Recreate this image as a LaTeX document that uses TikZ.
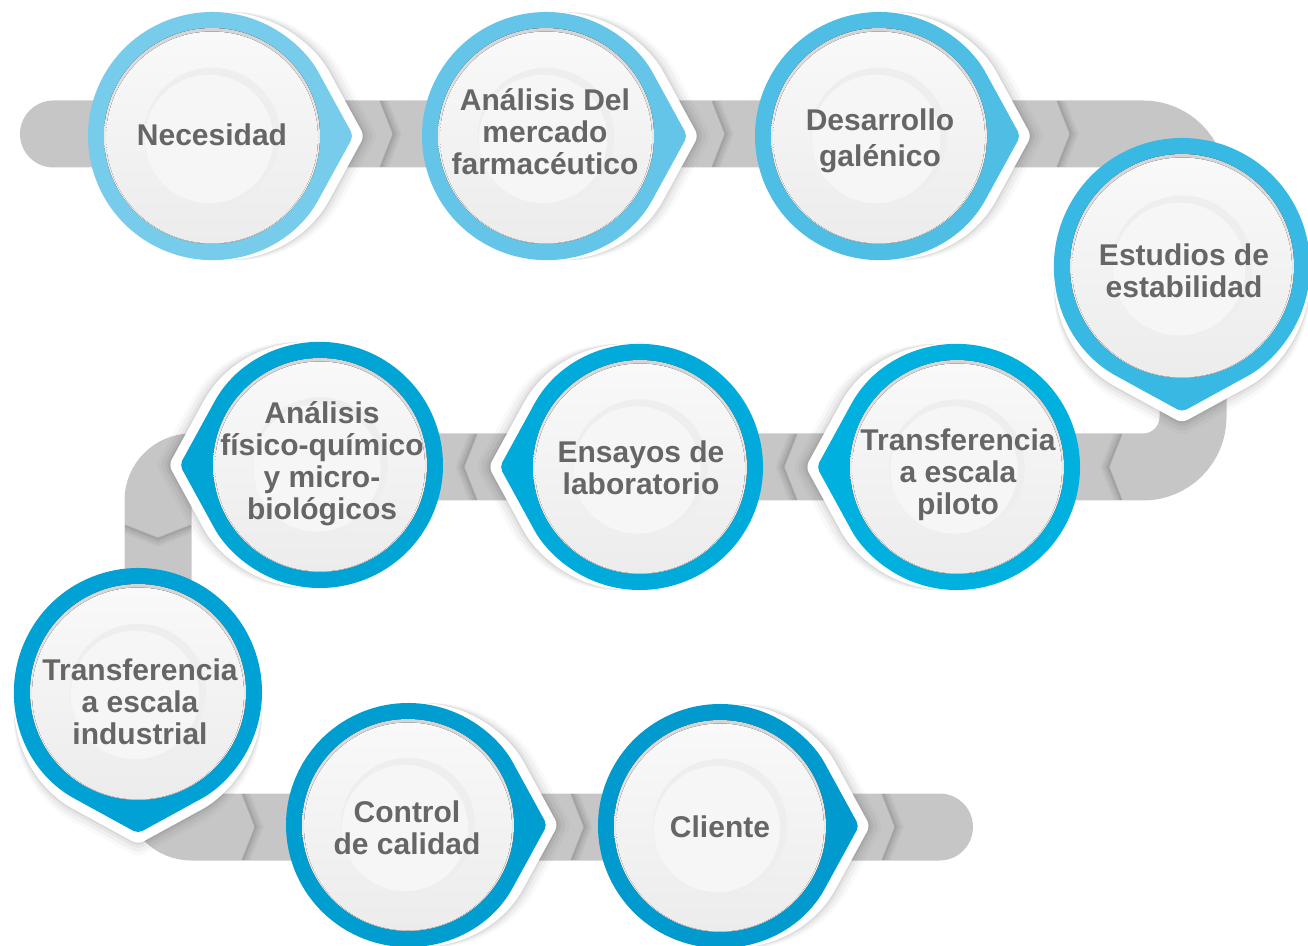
\documentclass[tikz,border=0pt]{standalone}
\usepackage{fontspec}
\setmainfont{Liberation Sans}
\definecolor{bandc}{HTML}{C6C6C6}
\definecolor{txtc}{HTML}{666666}
\definecolor{rimtop}{HTML}{D4D4D4}
\definecolor{discA}{HTML}{F9F9F9}
\definecolor{discB}{HTML}{ECECEC}
\definecolor{inA}{HTML}{EEEEEE}
\definecolor{inB}{HTML}{F6F6F6}
\definecolor{ringA}{HTML}{78CCEB}
\definecolor{ringB}{HTML}{64C5E8}
\definecolor{ringC}{HTML}{4FBEE5}
\definecolor{ringD}{HTML}{38B9E3}
\definecolor{ringE}{HTML}{00B0DF}
\definecolor{ringF}{HTML}{00AADA}
\definecolor{ringG}{HTML}{00A5D6}
\definecolor{ringH}{HTML}{00A1D4}
\definecolor{ringI}{HTML}{009DD1}
\definecolor{ringJ}{HTML}{009ACE}
\def\tipshape#1{(28.7:#1) arc[start angle=28.7, end angle=331.3, radius=#1] -- ({1.14*#1},0) -- cycle}
\newcommand\chev[3]{%
  \begin{scope}[shift={(#1,#2)},rotate=#3]
    \foreach \i/\o in {0/0.15,1.5/0.11,3/0.08,4.5/0.06,6/0.04,7.5/0.02}{
      \draw[black,opacity=\o,line width=0.9pt,line join=round] (-6.5+\i,-33) -- (6.5+\i,0) -- (-6.5+\i,33);
    }
  \end{scope}}
\newcommand\bubble[5]{%
  \begin{scope}[shift={(#1,#2)},rotate=#4]
    \foreach \s/\o in {24/0.025,20/0.035,16/0.045,13/0.06}{
      \fill[black,opacity=\o,shift={(\s,0)},rounded corners=3pt] \tipshape{#3};
    }
    \fill[white,shift={(11,0)},rounded corners=3pt] \tipshape{#3};
    \fill[#5,rounded corners=2.5pt] \tipshape{#3};
  \end{scope}
  \pgfmathsetmacro\rA{#3-16}
  \pgfmathsetmacro\rB{#3-18}
  \pgfmathsetmacro\rC{0.55*#3}
  \pgfmathsetmacro\rD{0.55*#3-4}
  \fill[top color=rimtop,bottom color=white] (#1,#2) circle[radius=\rA];
  \fill[top color=discA,bottom color=discB] (#1,#2+1.5) circle[radius=\rB];
  \fill[inA] (#1,#2) circle[radius=\rC];
  \fill[inB] (#1-3,#2+3) circle[radius=\rD];
}
\tikzset{
  lbl/.style={font=\bfseries\fontsize{15}{16}\selectfont, text=txtc, align=center, inner sep=0pt, anchor=north},
  bandline/.style={draw=bandc, line width=33.5pt, line cap=round}
}
\newcommand\st{\rule{0pt}{15pt}}
\begin{document}
\begin{tikzpicture}[x=0.5pt,y=-0.5pt]
\useasboundingbox (0,0) rectangle (1308,946);
% band
\coordinate (b0) at (53.5,134);
\coordinate (b1) at (1193,134);
\coordinate (b2) at (1193,467);
\coordinate (b3) at (600,467);
\coordinate (b4) at (158,467);
\coordinate (b5) at (158,827);
\coordinate (b6) at (939.5,827);
\draw[bandline, rounded corners=25pt] (b0) -- (b1) -- (b2) -- (b3);
\draw[bandline, rounded corners=16.75pt] (b3) -- (b4) -- (b5) -- (b6);
% chevrons
\chev{387}{134}{0}
\chev{719}{134}{0}
\chev{1064}{134}{0}
\chev{1115}{467}{180}
\chev{790}{467}{180}
\chev{470}{467}{180}
\chev{158}{532}{-90}
\chev{249}{827}{0}
\chev{578}{827}{0}
\chev{889}{827}{0}
% bubbles
\bubble{212}{136}{124}{0}{ringA}
\bubble{546}{136}{124}{0}{ringB}
\bubble{879}{136}{124}{0}{ringC}
\bubble{1182}{266}{128}{-90}{ringD}
\bubble{957}{467}{123}{180}{ringE}
\bubble{640}{467}{123}{180}{ringF}
\bubble{320}{465}{123}{180}{ringG}
\bubble{138}{692}{124}{-90}{ringH}
\bubble{408}{825}{122}{0}{ringI}
\bubble{720}{826}{122}{0}{ringJ}
% labels
\node[lbl] (t1) at (212,115) {\st Necesidad};
\node[lbl] (t2) at (545,80) {\st Análisis Del\\mercado\\farmacéutico};
\node[lbl] (t3) at (880,100) {\st Desarrollo\\[2pt]galénico};
\node[lbl] (t4) at (1184,235) {\st Estudios de\\estabilidad};
\node[lbl] (t5) at (958,420) {\st Transferencia\\a escala\\piloto};
\node[lbl] (t6) at (641,432) {\st Ensayos de\\laboratorio};
\node[lbl] (t7) at (322,393) {\st Análisis\\físico-químico\\y micro-\\biológicos};
\node[lbl] (t8) at (140,650) {\st Transferencia\\a escala\\industrial};
\node[lbl] (t9) at (407,792) {\st Control\\de calidad};
\node[lbl] (t10) at (720,807) {\st Cliente};
\end{tikzpicture}
\end{document}
